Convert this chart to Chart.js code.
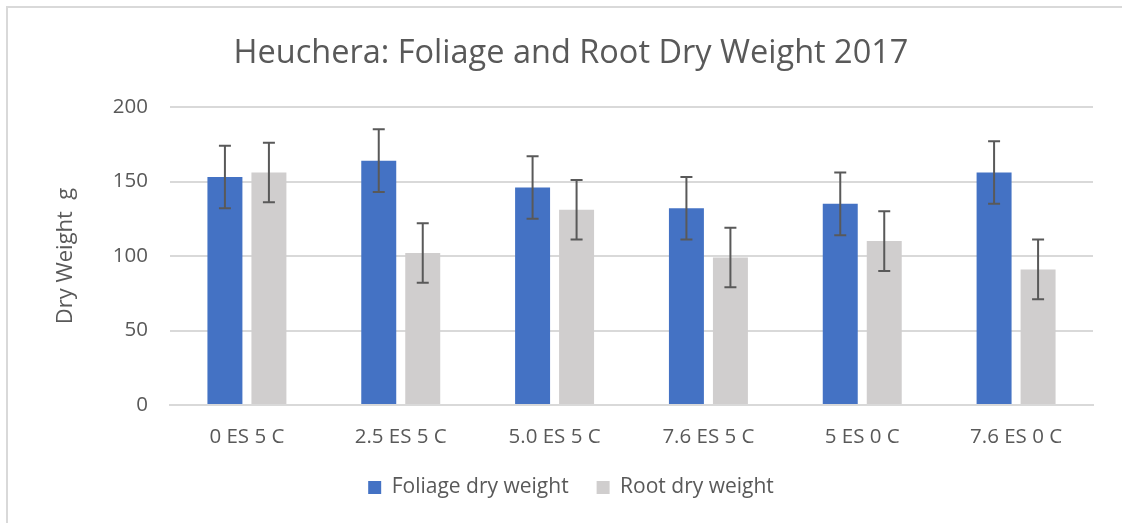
<!DOCTYPE html>
<html>
<head>
<meta charset="utf-8">
<script src="https://cdn.jsdelivr.net/npm/chart.js@4"></script>
<style>
  html, body { margin: 0; padding: 0; background: #fff; overflow: hidden; width: 1122px; height: 523px; }
  #box { position: absolute; left: 6px; top: 6px; width: 1114px; height: 515px; overflow: hidden; border-left: 2px solid #d9d9d9; border-top: 2px solid #d9d9d9; }
  canvas { display: block; }
</style>
</head>
<body>
<div id="box"><canvas id="c" width="1130" height="540"></canvas></div>
<script>
const categories = ["0 ES 5 C", "2.5 ES 5 C", "5.0 ES 5 C", "7.6 ES 5 C", "5 ES 0 C", "7.6 ES 0 C"];
const foliageDryWeight = [153, 164, 146, 132, 135, 156];
const foliageError = [21, 21, 21, 21, 21, 21];
const rootDryWeight = [156, 102, 131, 99, 110, 91];
const rootError = [20, 20, 20, 20, 20, 20];
const yTicks = [0, 50, 100, 150, 200];

const FONT = "'Open Sans', 'Liberation Sans', sans-serif";
const TEXT = "#595959";

const errorBars = {
  id: 'errorBars',
  afterDatasetsDraw(chart) {
    const ctx = chart.ctx;
    const y = chart.scales.y;
    chart.data.datasets.forEach((ds, i) => {
      const meta = chart.getDatasetMeta(i);
      meta.data.forEach((bar, j) => {
        const v = ds.data[j], e = ds.errors[j];
        const yTop = y.getPixelForValue(v + e);
        const yBot = y.getPixelForValue(v - e);
        ctx.save();
        ctx.strokeStyle = '#595959';
        ctx.lineWidth = 2;
        ctx.beginPath();
        ctx.moveTo(bar.x, yTop); ctx.lineTo(bar.x, yBot);
        ctx.moveTo(bar.x - 6, yTop); ctx.lineTo(bar.x + 6, yTop);
        ctx.moveTo(bar.x - 6, yBot); ctx.lineTo(bar.x + 6, yBot);
        ctx.stroke();
        ctx.restore();
      });
    });
  }
};

new Chart(document.getElementById('c'), {
  type: 'bar',
  data: {
    labels: categories,
    datasets: [
      { label: 'Foliage dry weight', data: foliageDryWeight, errors: foliageError, backgroundColor: '#4472C4', borderWidth: 0 },
      { label: 'Root dry weight', data: rootDryWeight, errors: rootError, backgroundColor: '#D0CECE', borderWidth: 0 }
    ]
  },
  options: {
    responsive: false,
    animation: false,
    datasets: { bar: { categoryPercentage: 0.572, barPercentage: 0.795 } },
    layout: { padding: { left: 0, right: 4, top: 0, bottom: 40 } },
    plugins: {
      title: {
        display: true,
        text: 'Heuchera: Foliage and Root Dry Weight 2017',
        color: TEXT,
        font: { family: FONT, size: 32.5, weight: 'normal' },
        padding: { top: 26, bottom: 34 }
      },
      legend: {
        position: 'bottom',
        labels: {
          color: TEXT,
          font: { family: FONT, size: 21 },
          boxWidth: 13, boxHeight: 13,
          padding: 28
        }
      },
      tooltip: { enabled: false }
    },
    scales: {
      x: {
        grid: { display: false, drawTicks: false },
        border: { display: true, color: '#d9d9d9', width: 2 },
        ticks: { color: TEXT, font: { family: FONT, size: 20.5 }, padding: 20 },
        afterFit(s) { s.height = 44; }
      },
      y: {
        min: 0, max: 200,
        afterBuildTicks(s) { s.ticks = yTicks.map(v => ({ value: v })); },
        grid: { color: '#d9d9d9', lineWidth: 2, drawTicks: false },
        border: { display: false },
        ticks: { color: TEXT, font: { family: FONT, size: 20.5 }, padding: 22 },
        title: { display: true, text: 'Dry Weight  g', color: TEXT, font: { family: FONT, size: 22 }, padding: { top: 45, bottom: 0 } },
        afterFit(s) { s.width = 162; }
      },
      yRight: {
        type: 'linear',
        position: 'right',
        min: 0, max: 200,
        grid: { display: false, drawTicks: false },
        border: { display: false },
        ticks: { display: false },
        afterFit(s) { s.width = 41; }
      }
    }
  },
  plugins: [errorBars]
});
</script>
</body>
</html>
